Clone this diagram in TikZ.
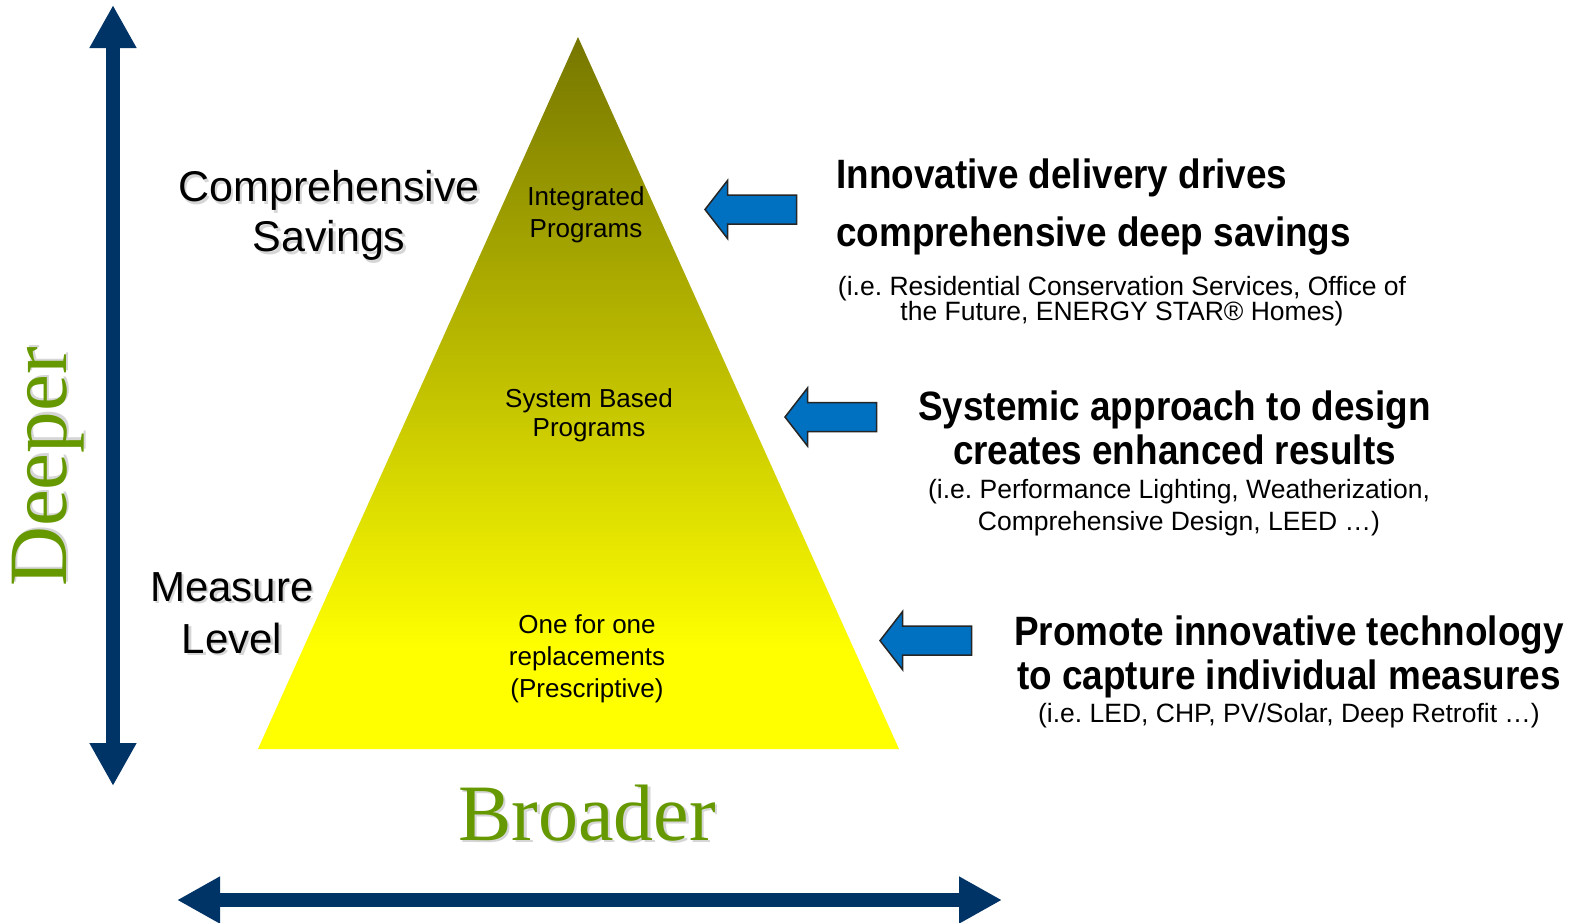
\documentclass[tikz,border=0pt]{standalone}
\usepackage{fontspec}
\setmainfont{Liberation Sans}
\newfontfamily\axisfont{Liberation Serif}
\newfontfamily\headfont[FakeStretch=0.9]{Liberation Sans Bold}
\usetikzlibrary{arrows.meta}
\definecolor{navy}{RGB}{0,51,102}
\definecolor{blockblue}{RGB}{0,112,192}
\definecolor{axisgreen}{RGB}{102,153,0}
\definecolor{pyrtop}{RGB}{118,118,0}
\definecolor{pyrmid}{RGB}{198,198,0}
\definecolor{pyrbot}{RGB}{255,255,0}
\pgfdeclareverticalshading{pyramid}{100bp}{color(0bp)=(pyrbot); color(32bp)=(pyrbot); color(49bp)=(pyrmid); color(75bp)=(pyrtop); color(100bp)=(pyrtop)}
\def\shadowoff{2.5pt}
\newcommand\shadowed[1]{\makebox[0pt][l]{\hspace{\shadowoff}\raisebox{-\shadowoff}{\color{black!16}#1}}#1}
\tikzset{axis/.style={navy, line width=14.5pt, {Triangle[length=43pt,width=44pt]}-{Triangle[length=43pt,width=44pt]}}}
\tikzset{axislabel/.style={axisgreen, inner sep=0pt, font=\axisfont\fontsize{80}{80}\selectfont}}
\tikzset{side/.style={align=center, inner sep=0pt, font=\fontsize{43}{50}\selectfont}}
\tikzset{tier/.style={align=center, inner sep=0pt, font=\fontsize{26}{32}\selectfont}}
\tikzset{headline/.style={inner sep=0pt, font=\headfont\fontsize{41}{44.5}\selectfont}}
\tikzset{note/.style={align=center, inner sep=0pt, font=\fontsize{26.5}{32}\selectfont}}
\tikzset{block/.style={fill=blockblue, draw=black!85, line width=1.5pt, line join=miter}}

\begin{document}
\begin{tikzpicture}[x=1pt, y=-1pt]
        \useasboundingbox[fill=white] (0,0) rectangle (1587,922);
        % Axes
        \coordinate (deep top) at (113,5);
        \coordinate (deep bottom) at (113,786);
        \coordinate (broad left) at (177,900);
        \coordinate (broad right) at (1002,900);
        \draw[axis] (deep top) -- (deep bottom);
        \draw[axis] (broad left) -- (broad right);
        \node[axislabel, rotate=90, anchor=base, font=\axisfont\fontsize{83}{83}\selectfont] (deeper) at (66,467) {\shadowed{Deeper}};
        \node[axislabel, anchor=base] (broader) at (587,840) {\shadowed{Broader}};
        % Pyramid
        \coordinate (apex) at (578,37);
        \shade[shading=pyramid] (apex) -- (258,749) -- (899,749) -- cycle;
        \node[tier] (integrated) at (586,214.5) {Integrated\\Programs};
        \node[tier, font=\fontsize{26}{29}\selectfont] (system) at (589,415) {System Based\\Programs};
        \node[tier] (single) at (587,659) {One for one\\replacements\\(Prescriptive)};
        % Left side labels
        \node[side] (comprehensive) at (329,217) {\shadowed{Comprehensive}\\\shadowed{Savings}};
        \node[side, font=\fontsize{42}{52}\selectfont] (measure) at (232,614) {\shadowed{Measure}\\\shadowed{Level}};
        % Block arrows pointing at the pyramid
        \foreach \tx/\ty [count=\i] in {705/209.5, 785/417, 880/640.6} {
          \draw[block] (\tx,\ty) coordinate (tip\i) -- ++(22.5,-29) -- ++(0,14.5) -- ++(69,0)
            -- ++(0,29) -- ++(-69,0) -- ++(0,14.5) -- cycle;
        }
        % Right hand texts
        \node[headline, font=\headfont\fontsize{41}{58}\selectfont, align=left, anchor=west] (drives) at (836,206.6) {Innovative delivery drives\\comprehensive deep savings};
        \node[note, font=\fontsize{26.5}{24.5}\selectfont] (drives note) at (1122,301) {(i.e.\ Residential Conservation Services, Office of\\the Future, ENERGY STAR® Homes)};
        \node[headline, align=center] (systemic) at (1174.5,428) {Systemic approach to design\\creates enhanced results};
        \node[note] (systemic note) at (1179,507.7) {(i.e.\ Performance Lighting, Weatherization,\\Comprehensive Design, LEED …)};
        \node[headline, align=center] (promote) at (1289,657) {Promote innovative technology\\to capture individual measures};
        \node[note] (promote note) at (1289,716) {(i.e.\ LED, CHP, PV/Solar, Deep Retrofit …)};
\end{tikzpicture}
\end{document}
